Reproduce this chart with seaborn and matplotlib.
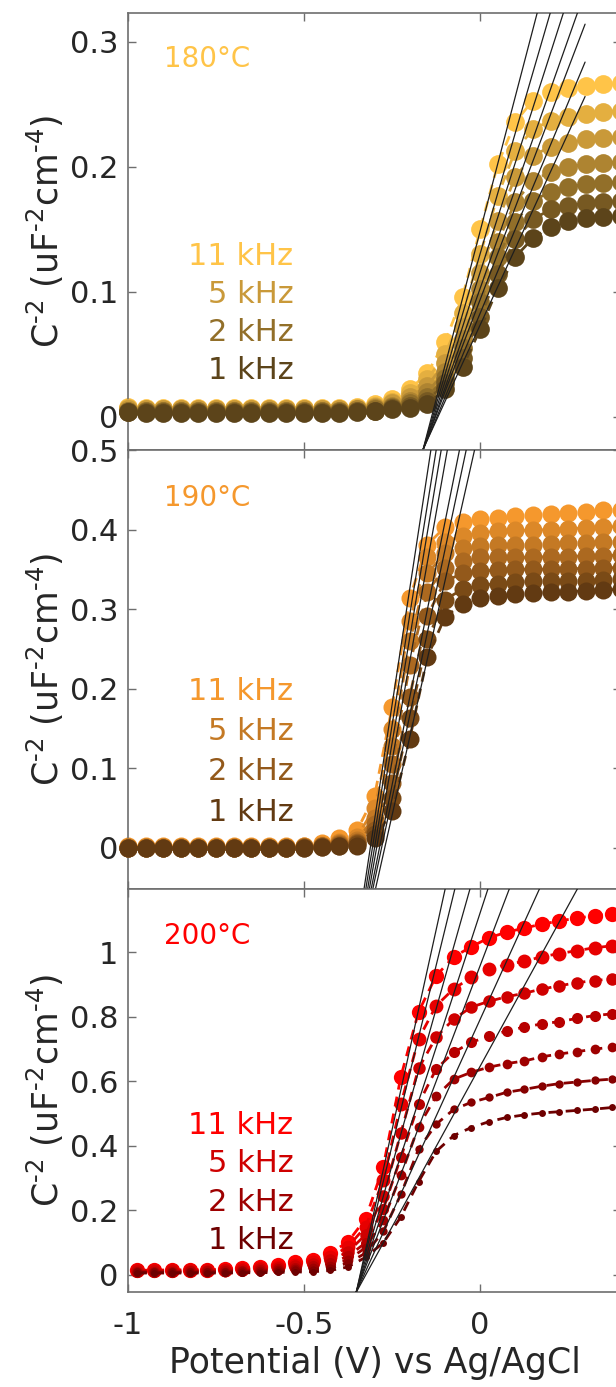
import numpy as np
import pandas as pd
import matplotlib
matplotlib.use("Agg")
import matplotlib.pyplot as plt
import seaborn as sns

sns.set_style("white")
plt.rcParams["font.family"] = ["DejaVu Sans"]
plt.rcParams["mathtext.default"] = "regular"
plt.rcParams["axes.unicode_minus"] = False

# ---------------- data ----------------
# potential grid (V vs Ag/AgCl)
potential_180 = [-1.00, -0.95, -0.90, -0.85, -0.80, -0.75, -0.70, -0.65, -0.60, -0.55,
                 -0.50, -0.45, -0.40, -0.35, -0.30, -0.25, -0.20, -0.15, -0.10, -0.05,
                 0.00, 0.05, 0.10, 0.15, 0.20, 0.25, 0.30, 0.35, 0.40]
potential_190 = list(potential_180)
potential_200 = [-0.975, -0.925, -0.875, -0.825, -0.775, -0.725, -0.675, -0.625, -0.575, -0.525,
                 -0.475, -0.425, -0.375, -0.325, -0.275, -0.225, -0.175, -0.125, -0.075, -0.025,
                 0.025, 0.075, 0.125, 0.175, 0.225, 0.275, 0.325, 0.375]

# Mott-Schottky curves, C^-2 (uF^-2 cm^-4), highest to lowest frequency
ms_180 = [
    [0.008, 0.007, 0.007, 0.007, 0.007, 0.007, 0.007, 0.007, 0.007, 0.007, 0.007, 0.007,
     0.007, 0.008, 0.010, 0.014, 0.022, 0.035, 0.060, 0.096, 0.150, 0.202, 0.236, 0.253,
     0.260, 0.263, 0.265, 0.266, 0.267],
    [0.007, 0.006, 0.006, 0.006, 0.006, 0.006, 0.006, 0.006, 0.006, 0.006, 0.006, 0.006,
     0.006, 0.007, 0.009, 0.012, 0.019, 0.030, 0.050, 0.083, 0.130, 0.177, 0.213, 0.230,
     0.237, 0.240, 0.242, 0.244, 0.245],
    [0.006, 0.006, 0.006, 0.006, 0.006, 0.006, 0.006, 0.006, 0.006, 0.006, 0.006, 0.006,
     0.006, 0.006, 0.008, 0.011, 0.016, 0.025, 0.043, 0.072, 0.115, 0.157, 0.192, 0.209,
     0.216, 0.219, 0.222, 0.223, 0.224],
    [0.005, 0.005, 0.005, 0.005, 0.005, 0.005, 0.005, 0.005, 0.005, 0.005, 0.005, 0.005,
     0.005, 0.006, 0.007, 0.009, 0.013, 0.020, 0.036, 0.062, 0.102, 0.140, 0.172, 0.189,
     0.196, 0.200, 0.202, 0.203, 0.204],
    [0.005, 0.005, 0.005, 0.005, 0.005, 0.005, 0.005, 0.005, 0.005, 0.005, 0.005, 0.005,
     0.005, 0.005, 0.006, 0.008, 0.011, 0.016, 0.031, 0.055, 0.092, 0.128, 0.156, 0.173,
     0.180, 0.184, 0.186, 0.187, 0.188],
    [0.004, 0.004, 0.004, 0.004, 0.004, 0.004, 0.004, 0.004, 0.004, 0.004, 0.004, 0.004,
     0.004, 0.005, 0.005, 0.007, 0.009, 0.013, 0.027, 0.047, 0.080, 0.114, 0.142, 0.158,
     0.166, 0.169, 0.171, 0.172, 0.173],
    [0.004, 0.003, 0.003, 0.003, 0.003, 0.003, 0.003, 0.003, 0.003, 0.003, 0.003, 0.003,
     0.003, 0.004, 0.005, 0.006, 0.007, 0.010, 0.022, 0.040, 0.070, 0.103, 0.128, 0.143,
     0.152, 0.157, 0.159, 0.160, 0.161],
]
ms_190 = [
    [0.002, 0.002, 0.002, 0.002, 0.002, 0.002, 0.002, 0.002, 0.002, 0.002, 0.003, 0.006,
     0.012, 0.022, 0.065, 0.177, 0.314, 0.381, 0.403, 0.410, 0.413, 0.415, 0.417, 0.418,
     0.420, 0.421, 0.422, 0.424, 0.424],
    [0.001, 0.001, 0.001, 0.001, 0.001, 0.001, 0.001, 0.001, 0.001, 0.001, 0.002, 0.004,
     0.008, 0.014, 0.050, 0.150, 0.285, 0.365, 0.385, 0.392, 0.396, 0.398, 0.399, 0.399,
     0.400, 0.401, 0.402, 0.403, 0.404],
    [0.001, 0.001, 0.001, 0.001, 0.001, 0.001, 0.001, 0.001, 0.001, 0.001, 0.001, 0.003,
     0.006, 0.010, 0.038, 0.128, 0.260, 0.345, 0.370, 0.377, 0.380, 0.381, 0.381, 0.381,
     0.382, 0.383, 0.383, 0.384, 0.385],
    [0.000, 0.000, 0.000, 0.000, 0.000, 0.000, 0.000, 0.000, 0.000, 0.000, 0.001, 0.002,
     0.005, 0.008, 0.030, 0.105, 0.230, 0.322, 0.352, 0.361, 0.365, 0.365, 0.365, 0.365,
     0.366, 0.366, 0.367, 0.367, 0.368],
    [0.000, 0.000, 0.000, 0.000, 0.000, 0.000, 0.000, 0.000, 0.000, 0.000, 0.001, 0.002,
     0.004, 0.006, 0.022, 0.082, 0.190, 0.292, 0.335, 0.345, 0.348, 0.349, 0.350, 0.350,
     0.350, 0.351, 0.351, 0.352, 0.352],
    [0.000, 0.000, 0.000, 0.000, 0.000, 0.000, 0.000, 0.000, 0.000, 0.000, 0.000, 0.001,
     0.003, 0.005, 0.017, 0.063, 0.163, 0.262, 0.312, 0.325, 0.330, 0.332, 0.334, 0.335,
     0.335, 0.336, 0.336, 0.337, 0.338],
    [0.000, 0.000, 0.000, 0.000, 0.000, 0.000, 0.000, 0.000, 0.000, 0.000, 0.000, 0.001,
     0.002, 0.003, 0.012, 0.046, 0.137, 0.240, 0.290, 0.307, 0.314, 0.317, 0.319, 0.320,
     0.321, 0.322, 0.323, 0.324, 0.325],
]
ms_200 = [
    [0.015, 0.015, 0.016, 0.016, 0.017, 0.018, 0.021, 0.025, 0.030, 0.040, 0.047, 0.068,
     0.103, 0.175, 0.336, 0.615, 0.815, 0.927, 0.986, 1.017, 1.045, 1.062, 1.075, 1.087,
     1.097, 1.106, 1.113, 1.120],
    [0.014, 0.014, 0.014, 0.015, 0.015, 0.016, 0.018, 0.021, 0.025, 0.032, 0.040, 0.055,
     0.088, 0.150, 0.295, 0.530, 0.731, 0.834, 0.887, 0.922, 0.947, 0.962, 0.972, 0.986,
     0.996, 1.005, 1.014, 1.020],
    [0.012, 0.012, 0.012, 0.013, 0.013, 0.014, 0.015, 0.018, 0.021, 0.027, 0.033, 0.045,
     0.072, 0.125, 0.245, 0.440, 0.640, 0.737, 0.793, 0.830, 0.848, 0.862, 0.873, 0.886,
     0.896, 0.906, 0.912, 0.918],
    [0.010, 0.010, 0.010, 0.011, 0.011, 0.012, 0.013, 0.015, 0.018, 0.022, 0.027, 0.036,
     0.058, 0.100, 0.205, 0.365, 0.530, 0.638, 0.690, 0.721, 0.740, 0.756, 0.768, 0.778,
     0.785, 0.795, 0.804, 0.809],
    [0.009, 0.009, 0.009, 0.009, 0.010, 0.010, 0.011, 0.013, 0.015, 0.018, 0.022, 0.029,
     0.047, 0.085, 0.170, 0.310, 0.460, 0.554, 0.607, 0.628, 0.644, 0.655, 0.663, 0.676,
     0.685, 0.692, 0.700, 0.706],
    [0.008, 0.008, 0.008, 0.008, 0.008, 0.009, 0.009, 0.010, 0.012, 0.014, 0.017, 0.022,
     0.037, 0.068, 0.135, 0.250, 0.390, 0.467, 0.513, 0.535, 0.550, 0.566, 0.575, 0.585,
     0.593, 0.598, 0.603, 0.607],
    [0.006, 0.006, 0.006, 0.006, 0.006, 0.006, 0.007, 0.007, 0.008, 0.009, 0.010, 0.014,
     0.025, 0.055, 0.100, 0.180, 0.289, 0.383, 0.432, 0.457, 0.475, 0.488, 0.496, 0.502,
     0.506, 0.510, 0.514, 0.519],
]

# linear fits of the depletion region: slope and flat-band potential
fit_slope_180 = [1.077, 0.967, 0.877, 0.797, 0.739, 0.674, 0.613]
fit_vfb_180 = [-0.138, -0.135, -0.132, -0.129, -0.127, -0.123, -0.120]
fit_slope_190 = [2.905, 2.76, 2.64, 2.49, 2.20, 2.08, 1.96]
fit_vfb_190 = [-0.312, -0.306, -0.300, -0.294, -0.286, -0.280, -0.271]
fit_slope_200 = [4.95, 4.46, 3.87, 3.34, 2.87, 2.40, 1.99]
fit_vfb_200 = [-0.341, -0.340, -0.338, -0.336, -0.334, -0.330, -0.325]
fit_range_180 = [-0.20, 0.298]
fit_range_190 = [-0.36, 0.02]
fit_range_200 = [-0.38, 0.32]

temperatures = ["180°C", "190°C", "200°C"]
freq_labels = ["11 kHz", "5 kHz", "2 kHz", "1 kHz"]

# ---------------- styling ----------------
colors_180 = ["#FFC448", "#E4AF40", "#C99939", "#AE8431", "#926F29", "#775922", "#5C441A"]
colors_190 = ["#F5982D", "#DC8828", "#C47924", "#AC6920", "#93591B", "#7A4A16", "#623A12"]
colors_200 = ["#FF0000", "#E70000", "#CF0000", "#B70000", "#9E0000", "#860000", "#6E0000"]
label_series = [0, 2, 4, 6]

W, H = 616, 1387
fig = plt.figure(figsize=(W / 100, H / 100), dpi=100)

left_px, right_px = 128, 621
panel_px = [(13, 450), (450, 889), (889, 1292)]

def make_axes(top, bottom):
    return fig.add_axes([left_px / W, 1 - bottom / H, (right_px - left_px) / W, (bottom - top) / H])

panels = [
    dict(x=potential_180, ys=ms_180, slope=fit_slope_180, vfb=fit_vfb_180, frange=fit_range_180,
         colors=colors_180, ylim=(-0.0264, 0.323), yticks=[0, 0.1, 0.2, 0.3],
         yticklabels=["0", "0.1", "0.2", "0.3"], msize=[13.5] * 7,
         temp_y=0.895, freq_y=[0.442, 0.355, 0.268, 0.183]),
    dict(x=potential_190, ys=ms_190, slope=fit_slope_190, vfb=fit_vfb_190, frange=fit_range_190,
         colors=colors_190, ylim=(-0.0516, 0.5), yticks=[0, 0.1, 0.2, 0.3, 0.4, 0.5],
         yticklabels=["0", "0.1", "0.2", "0.3", "0.4", "0.5"], msize=[13] * 7,
         temp_y=0.891, freq_y=[0.449, 0.358, 0.267, 0.175]),
    dict(x=potential_200, ys=ms_200, slope=fit_slope_200, vfb=fit_vfb_200, frange=fit_range_200,
         colors=colors_200, ylim=(-0.0527, 1.196), yticks=[0, 0.2, 0.4, 0.6, 0.8, 1.0],
         yticklabels=["0", "0.2", "0.4", "0.6", "0.8", "1"], msize=[11, 10, 9, 8, 7, 6, 5],
         temp_y=0.883, freq_y=[0.414, 0.320, 0.223, 0.129]),
]

ylabel = "C$^{\u20102}$ (uF$^{\u20102}$cm$^{\u20104}$)"
tick_color = "#262626"
spine_color = "#6e6e6e"

for i, (p, (top, bottom)) in enumerate(zip(panels, panel_px)):
    ax = make_axes(top, bottom)
    for k, yv in enumerate(p["ys"]):
        df = pd.DataFrame({"V": p["x"], "C": yv})
        sns.lineplot(data=df, x="V", y="C", ax=ax, color=p["colors"][k], sort=False,
                     errorbar=None, legend=False, lw=2.0, linestyle=(0, (3.6, 2.6)),
                     marker="o", markersize=p["msize"][k], markeredgewidth=0, zorder=2 + k,
                     clip_on=False)
    # fitted lines
    vr = np.array(p["frange"])
    for s, v0 in zip(p["slope"], p["vfb"]):
        ax.plot(vr, s * (vr - v0), color="#1e1e1e", lw=0.9, zorder=20)

    ax.set_xlim(-1.0, 0.4)
    ax.set_ylim(*p["ylim"])
    ax.set_xticks([-1.0, -0.5, 0.0])
    ax.set_yticks(p["yticks"])
    ax.set_yticklabels(p["yticklabels"])
    if i == 2:
        ax.set_xticklabels(["-1", "-0.5", "0"])
        ax.set_xlabel("Potential (V) vs Ag/AgCl", fontsize=25, color=tick_color, labelpad=4)
    else:
        ax.set_xticklabels([])
        ax.set_xlabel("")
    ax.set_ylabel(ylabel, fontsize=25, color=tick_color)
    ax.yaxis.set_label_coords(-0.125, 0.5)
    ax.tick_params(direction="in", length=6, width=1.0, color=spine_color,
                   top=True, right=True, bottom=True, left=True,
                   labelsize=22, labelcolor=tick_color, pad=7)
    ax.tick_params(axis="x", pad=14)
    for sp in ax.spines.values():
        sp.set_color(spine_color)
        sp.set_linewidth(1.2)
        sp.set_visible(True)

    ax.text(0.073, p["temp_y"], temperatures[i], transform=ax.transAxes, fontsize=20,
            color=p["colors"][0], ha="left", va="center")
    for lab, yy, k in zip(freq_labels, p["freq_y"], label_series):
        ax.text(0.335, yy, lab, transform=ax.transAxes, fontsize=22,
                color=p["colors"][k], ha="right", va="center")

fig.savefig("out.png", dpi=100)
